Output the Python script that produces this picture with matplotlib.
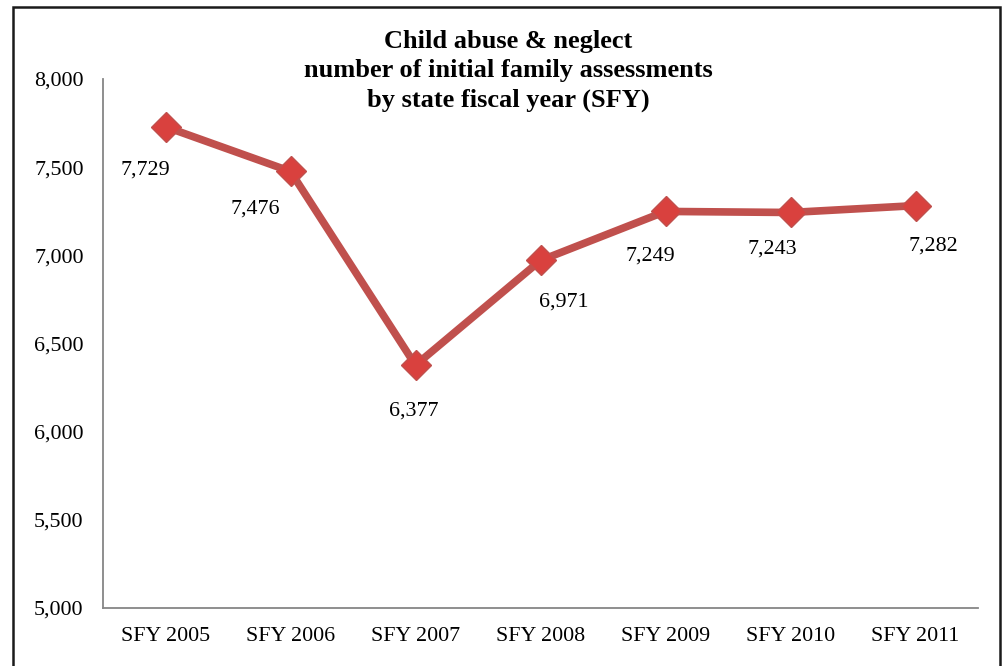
import matplotlib.pyplot as plt
from matplotlib.patches import Rectangle

years = ['SFY 2005', 'SFY 2006', 'SFY 2007', 'SFY 2008', 'SFY 2009', 'SFY 2010', 'SFY 2011']
assessments = [7729, 7476, 6377, 6971, 7249, 7243, 7282]
yticks = [5000, 5500, 6000, 6500, 7000, 7500, 8000]

# label offsets in pixels (dx, dy) relative to the point
label_offsets = [(-20, -43), (-35, -38), (-2, -46), (23, -42), (-15, -45), (-18, -37), (18, -40)]

plt.rcParams['font.family'] = ['Liberation Serif', 'DejaVu Serif']

fig = plt.figure(figsize=(10.05, 6.66), dpi=100)
ax = fig.add_axes([103 / 1005, 58 / 666, 875 / 1005, 529 / 666])

x = range(len(years))
ax.plot(x, assessments, color='#C0504D', lw=5.5, marker='D', ms=15,
        mfc='#D9413E', mec='#C0504D', mew=1, solid_capstyle='round', zorder=3)

for i, v in enumerate(assessments):
    dx, dy = label_offsets[i]
    ax.annotate(f'{v:,}', (i, v), xytext=(dx * 0.72, dy * 0.72), textcoords='offset points',
                ha='center', va='center', fontsize=15.8)

ax.set_xlim(-0.5, len(years) - 0.5)
ax.set_ylim(5000, 8000)
ax.set_xticks(list(x))
ax.set_xticklabels(years, fontsize=15.8)
ax.set_yticks(yticks)
ax.set_yticklabels([f'{t:,}' for t in yticks], fontsize=15.8)
ax.tick_params(length=0, pad=14)
ax.tick_params(axis='y', pad=14)
for s in ['top', 'right']:
    ax.spines[s].set_visible(False)
for s in ['left', 'bottom']:
    ax.spines[s].set_color('#868686')
    ax.spines[s].set_linewidth(1.3)

fig.text(508 / 1005, 1 - 71 / 666,
         'Child abuse & neglect\nnumber of initial family assessments\nby state fiscal year (SFY)',
         ha='center', va='center', fontsize=19, fontweight='bold', linespacing=1.36)

fig.patches.append(Rectangle((13 / 1005, -0.05), 987 / 1005, 1.05 - 7 / 666,
                             transform=fig.transFigure, fill=False, ec='#1a1a1a', lw=1.8))

fig.savefig('out.png', dpi=100)
